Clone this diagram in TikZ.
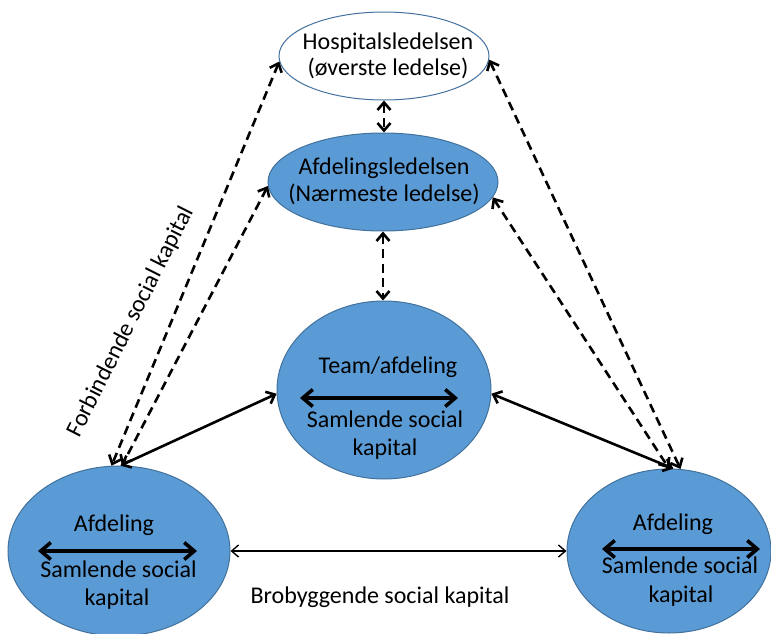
\documentclass[tikz,border=0pt]{standalone}
\usepackage{fontspec}
\setmainfont{Carlito}
\usetikzlibrary{shapes.geometric,arrows.meta}
\definecolor{fillblue}{RGB}{91,155,213}
\definecolor{edgeblue}{RGB}{65,113,156}
\begin{document}
\begin{tikzpicture}[x=1pt,y=-1pt,
  ell/.style={ellipse,draw=edgeblue,line width=1pt,inner sep=0pt},
  bluell/.style={ell,fill=fillblue},
  txt/.style={font=\fontsize{24}{29}\selectfont,anchor=base,inner sep=0pt},
  link/.style={line width=2.6pt,{Straight Barb[length=7.5pt,width=13pt]}-{Straight Barb[length=7.5pt,width=13pt]}},
  dashlink/.style={link,dash pattern=on 9pt off 5.5pt},
  innerarrow/.style={line width=3.6pt,{Straight Barb[length=10pt,width=17pt]}-{Straight Barb[length=10pt,width=17pt]}},
  thinlink/.style={line width=1.4pt,{Straight Barb[length=7pt,width=12pt]}-{Straight Barb[length=7pt,width=12pt]}}
]
\useasboundingbox (0,0) rectangle (771,634);

% ellipses
\node[ell,fill=white,minimum width=210pt,minimum height=88pt] (hosp) at (384,56) {};
\node[bluell,minimum width=230pt,minimum height=98pt] (afdl) at (383,182) {};
\node[bluell,minimum width=214pt,minimum height=178pt] (team) at (384,390) {};
\node[bluell,minimum width=222pt,minimum height=170pt] (left) at (119,551) {};
\node[bluell,minimum width=204pt,minimum height=164pt] (right) at (669,551) {};

% texts
\node[txt] (hosp1) at (388,50) {Hospitalsledelsen};
\node[txt] (hosp2) at (388,76) {(øverste ledelse)};
\node[txt] (afdl1) at (384,174) {Afdelingsledelsen};
\node[txt] (afdl2) at (384,201) {(Nærmeste ledelse)};
\node[txt] (team1) at (388,373) {Team/afdeling};
\node[txt] (team2) at (385,427) {Samlende social};
\node[txt] (team3) at (385,455) {kapital};
\node[txt] (left1) at (114,531) {Afdeling};
\node[txt] (left2) at (118.5,577) {Samlende social};
\node[txt] (left3) at (117,605) {kapital};
\node[txt] (right1) at (673,530) {Afdeling};
\node[txt] (right2) at (680,573) {Samlende social};
\node[txt] (right3) at (681,602) {kapital};
\node[txt] (bro) at (380,603) {Brobyggende social kapital};
\node[txt,anchor=center,rotate=63.2] (forb) at (131,322) {Forbindende social kapital};

% inner arrows
\coordinate (tA) at (300,398); \coordinate (tB) at (458,398);
\coordinate (lA) at (38,551);  \coordinate (lB) at (197,551);
\coordinate (rA) at (602,549); \coordinate (rB) at (760,549);
\draw[innerarrow] (tA) -- (tB);
\draw[innerarrow] (lA) -- (lB);
\draw[innerarrow] (rA) -- (rB);

% connectors
\draw[dashlink] (hosp.south) -- (hosp.south |- afdl.north);
\draw[dashlink] (afdl.south) -- (afdl.south |- team.north);
\draw[dashlink] (hosp.183) -- (left.95);
\draw[dashlink] (afdl.182) -- (left.88);
\draw[dashlink] (hosp.358) -- (right.82);
\draw[dashlink] (afdl.352) -- (right.90);
\draw[link] (team.182) -- (left.89);
\draw[link] (team.358) -- (right.87);
\draw[thinlink] (left.east) -- (right.west);
\end{tikzpicture}
\end{document}
